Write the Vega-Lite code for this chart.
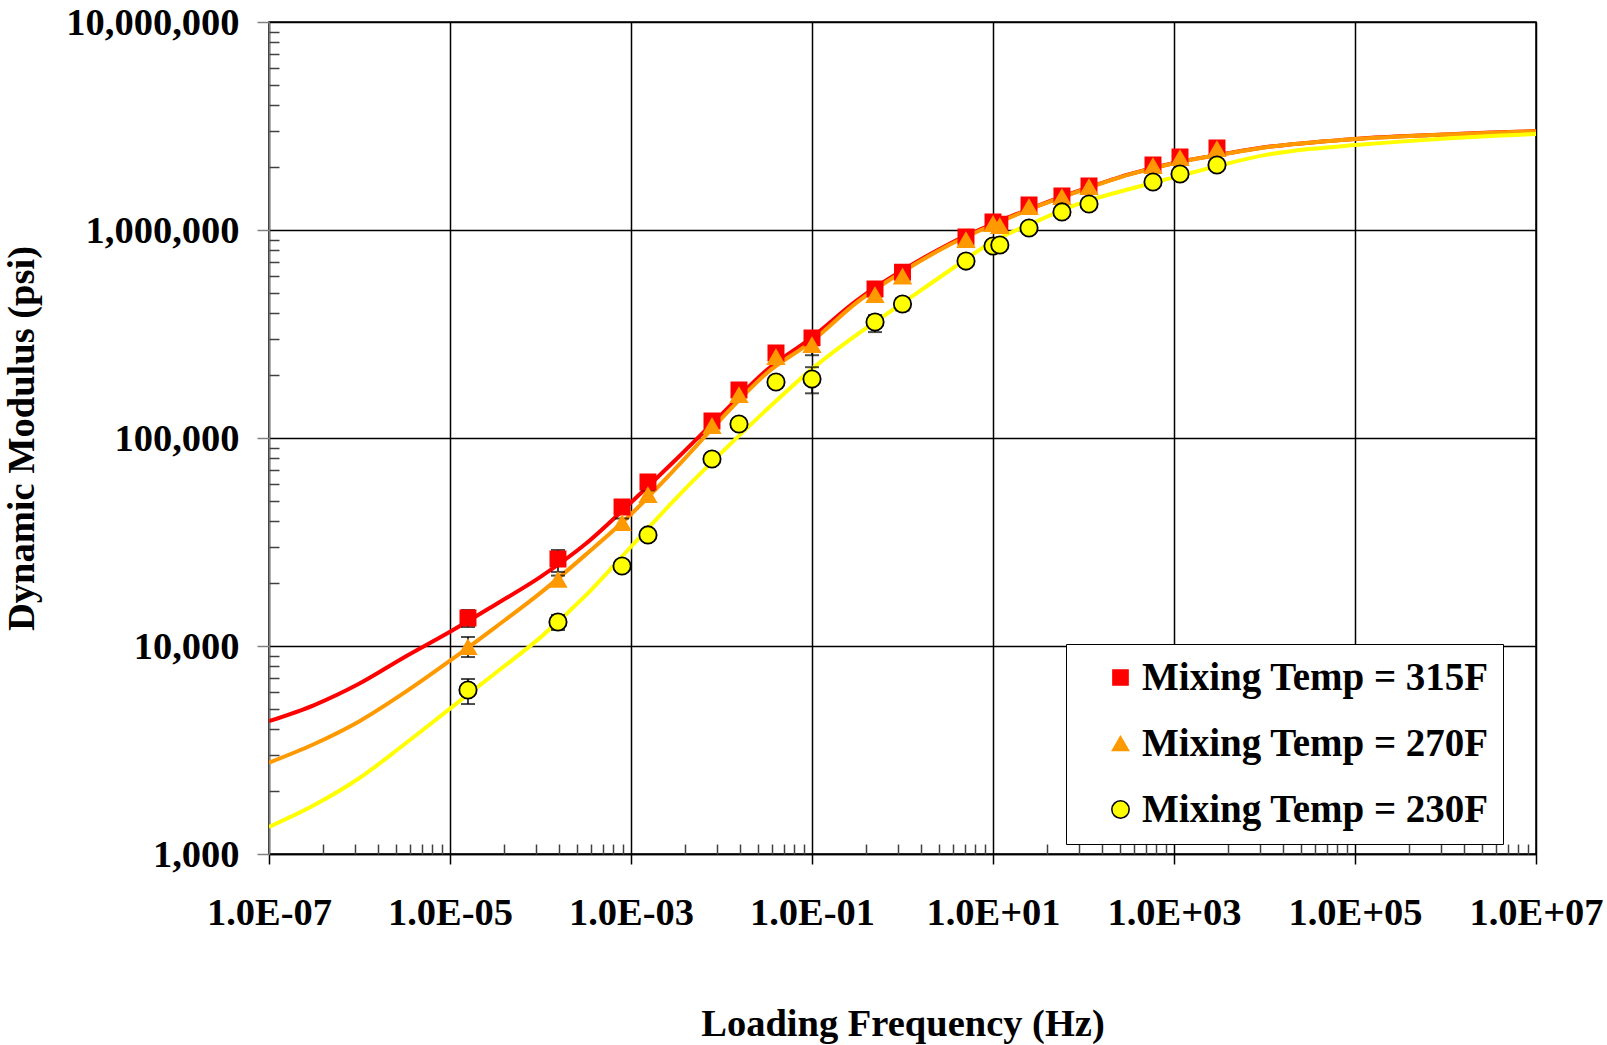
{
  "$schema": "https://vega.github.io/schema/vega-lite/v6.json",
  "autosize": {"type": "none"},
  "width": 1267,
  "height": 832,
  "padding": {"left": 269, "top": 22, "right": 71, "bottom": 191},
  "background": "white",
  "config": {
    "view": {"stroke": "black", "strokeWidth": 1.5},
    "axis": {
      "labelFont": "Liberation Serif",
      "labelFontWeight": "bold",
      "labelFontSize": 38.5,
      "labelColor": "black",
      "titleFont": "Liberation Serif",
      "titleFontWeight": "bold",
      "titleFontSize": 38.5,
      "titleColor": "black"
    },
    "legend": {
      "orient": "none", "legendX": 797, "legendY": 622,
      "labelFont": "Liberation Serif", "labelFontWeight": "bold", "labelFontSize": 39, "labelColor": "black",
      "labelLimit": 0,
      "symbolSize": 190, "symbolOffset": 21, "labelOffset": 2,
      "padding": 14, "rowPadding": 26,
      "strokeColor": "black", "fillColor": "white"
    }
  },
  "datasets": {
    "curves": [
      {"curve": "315F", "f": 1e-7, "E": 4350},
      {"curve": "315F", "f": 3.162e-7, "E": 5200},
      {"curve": "315F", "f": 1e-6, "E": 6600},
      {"curve": "315F", "f": 3.162e-6, "E": 8850},
      {"curve": "315F", "f": 1e-5, "E": 11700},
      {"curve": "315F", "f": 3.162e-5, "E": 15800},
      {"curve": "315F", "f": 1e-4, "E": 21500},
      {"curve": "315F", "f": 3.162e-4, "E": 31000},
      {"curve": "315F", "f": 1e-3, "E": 49000},
      {"curve": "315F", "f": 3.162e-3, "E": 79000},
      {"curve": "315F", "f": 1e-2, "E": 130000},
      {"curve": "315F", "f": 3.162e-2, "E": 212000},
      {"curve": "315F", "f": 0.1, "E": 305000},
      {"curve": "315F", "f": 0.3162, "E": 460000},
      {"curve": "315F", "f": 1, "E": 640000},
      {"curve": "315F", "f": 3.162, "E": 850000},
      {"curve": "315F", "f": 10, "E": 1070000},
      {"curve": "315F", "f": 31.62, "E": 1310000},
      {"curve": "315F", "f": 100, "E": 1570000},
      {"curve": "315F", "f": 316.2, "E": 1850000},
      {"curve": "315F", "f": 1000, "E": 2100000},
      {"curve": "315F", "f": 3162, "E": 2300000},
      {"curve": "315F", "f": 10000, "E": 2500000},
      {"curve": "315F", "f": 31620, "E": 2630000},
      {"curve": "315F", "f": 100000, "E": 2740000},
      {"curve": "315F", "f": 316200, "E": 2820000},
      {"curve": "315F", "f": 1000000, "E": 2880000},
      {"curve": "315F", "f": 3162000, "E": 2940000},
      {"curve": "315F", "f": 10000000, "E": 2990000},
      {"curve": "270F", "f": 1e-7, "E": 2750},
      {"curve": "270F", "f": 3.162e-7, "E": 3380},
      {"curve": "270F", "f": 1e-6, "E": 4350},
      {"curve": "270F", "f": 3.162e-6, "E": 5980},
      {"curve": "270F", "f": 1e-5, "E": 8500},
      {"curve": "270F", "f": 3.162e-5, "E": 12300},
      {"curve": "270F", "f": 1e-4, "E": 18000},
      {"curve": "270F", "f": 3.162e-4, "E": 27500},
      {"curve": "270F", "f": 1e-3, "E": 43000},
      {"curve": "270F", "f": 3.162e-3, "E": 72000},
      {"curve": "270F", "f": 1e-2, "E": 124000},
      {"curve": "270F", "f": 3.162e-2, "E": 205000},
      {"curve": "270F", "f": 0.1, "E": 292000},
      {"curve": "270F", "f": 0.3162, "E": 450000},
      {"curve": "270F", "f": 1, "E": 630000},
      {"curve": "270F", "f": 3.162, "E": 840000},
      {"curve": "270F", "f": 10, "E": 1060000},
      {"curve": "270F", "f": 31.62, "E": 1305000},
      {"curve": "270F", "f": 100, "E": 1565000},
      {"curve": "270F", "f": 316.2, "E": 1845000},
      {"curve": "270F", "f": 1000, "E": 2095000},
      {"curve": "270F", "f": 3162, "E": 2295000},
      {"curve": "270F", "f": 10000, "E": 2495000},
      {"curve": "270F", "f": 31620, "E": 2625000},
      {"curve": "270F", "f": 100000, "E": 2735000},
      {"curve": "270F", "f": 316200, "E": 2815000},
      {"curve": "270F", "f": 1000000, "E": 2875000},
      {"curve": "270F", "f": 3162000, "E": 2935000},
      {"curve": "270F", "f": 10000000, "E": 2985000},
      {"curve": "230F", "f": 1e-7, "E": 1350},
      {"curve": "230F", "f": 3.162e-7, "E": 1720},
      {"curve": "230F", "f": 1e-6, "E": 2320},
      {"curve": "230F", "f": 3.162e-6, "E": 3380},
      {"curve": "230F", "f": 1e-5, "E": 5000},
      {"curve": "230F", "f": 3.162e-5, "E": 7400},
      {"curve": "230F", "f": 1e-4, "E": 11000},
      {"curve": "230F", "f": 3.162e-4, "E": 17500},
      {"curve": "230F", "f": 1e-3, "E": 30000},
      {"curve": "230F", "f": 3.162e-3, "E": 51400},
      {"curve": "230F", "f": 1e-2, "E": 85000},
      {"curve": "230F", "f": 3.162e-2, "E": 137000},
      {"curve": "230F", "f": 0.1, "E": 215000},
      {"curve": "230F", "f": 0.3162, "E": 315000},
      {"curve": "230F", "f": 1, "E": 445000},
      {"curve": "230F", "f": 3.162, "E": 630000},
      {"curve": "230F", "f": 10, "E": 880000},
      {"curve": "230F", "f": 31.62, "E": 1110000},
      {"curve": "230F", "f": 100, "E": 1360000},
      {"curve": "230F", "f": 316.2, "E": 1570000},
      {"curve": "230F", "f": 1000, "E": 1790000},
      {"curve": "230F", "f": 3162, "E": 2040000},
      {"curve": "230F", "f": 10000, "E": 2290000},
      {"curve": "230F", "f": 31620, "E": 2450000},
      {"curve": "230F", "f": 100000, "E": 2560000},
      {"curve": "230F", "f": 316200, "E": 2660000},
      {"curve": "230F", "f": 1000000, "E": 2750000},
      {"curve": "230F", "f": 3162000, "E": 2830000},
      {"curve": "230F", "f": 10000000, "E": 2895000}
    ],
    "pts": [
      {"series": "Mixing Temp = 315F", "f": 1.58e-5, "E": 13640, "lo": 12340, "hi": 14900},
      {"series": "Mixing Temp = 315F", "f": 1.56e-4, "E": 26200, "lo": 22700, "hi": 28950},
      {"series": "Mixing Temp = 315F", "f": 7.96e-4, "E": 46600, "lo": 44000, "hi": 49000},
      {"series": "Mixing Temp = 315F", "f": 1.54e-3, "E": 61400, "lo": 58500, "hi": 64500},
      {"series": "Mixing Temp = 315F", "f": 7.85e-3, "E": 120700, "lo": 114000, "hi": 127000},
      {"series": "Mixing Temp = 315F", "f": 0.0156, "E": 170000, "lo": 160000, "hi": 178000},
      {"series": "Mixing Temp = 315F", "f": 0.04, "E": 256000, "lo": 238000, "hi": 272000},
      {"series": "Mixing Temp = 315F", "f": 0.1, "E": 303000, "lo": 280000, "hi": 327000},
      {"series": "Mixing Temp = 315F", "f": 0.497, "E": 520000, "lo": 485000, "hi": 550000},
      {"series": "Mixing Temp = 315F", "f": 1.0, "E": 626000, "lo": 585000, "hi": 655000},
      {"series": "Mixing Temp = 315F", "f": 5.03, "E": 925000, "lo": 880000, "hi": 965000},
      {"series": "Mixing Temp = 315F", "f": 10, "E": 1092000, "lo": 1040000, "hi": 1130000},
      {"series": "Mixing Temp = 315F", "f": 11.9, "E": 1065000, "lo": 1020000, "hi": 1110000},
      {"series": "Mixing Temp = 315F", "f": 25, "E": 1320000, "lo": 1260000, "hi": 1370000},
      {"series": "Mixing Temp = 315F", "f": 57.8, "E": 1457000, "lo": 1400000, "hi": 1510000},
      {"series": "Mixing Temp = 315F", "f": 115, "E": 1629000, "lo": 1570000, "hi": 1690000},
      {"series": "Mixing Temp = 315F", "f": 586, "E": 2055000, "lo": 1960000, "hi": 2150000},
      {"series": "Mixing Temp = 315F", "f": 1165, "E": 2245000, "lo": 2150000, "hi": 2340000},
      {"series": "Mixing Temp = 315F", "f": 2985, "E": 2480000, "lo": 2360000, "hi": 2600000},
      {"series": "Mixing Temp = 270F", "f": 1.58e-5, "E": 9890, "lo": 8850, "hi": 11050},
      {"series": "Mixing Temp = 270F", "f": 1.56e-4, "E": 20800, "lo": 19800, "hi": 21800},
      {"series": "Mixing Temp = 270F", "f": 7.96e-4, "E": 39000, "lo": 37000, "hi": 41000},
      {"series": "Mixing Temp = 270F", "f": 1.54e-3, "E": 53200, "lo": 50500, "hi": 56000},
      {"series": "Mixing Temp = 270F", "f": 7.85e-3, "E": 114300, "lo": 109000, "hi": 120000},
      {"series": "Mixing Temp = 270F", "f": 0.0156, "E": 161000, "lo": 153000, "hi": 169000},
      {"series": "Mixing Temp = 270F", "f": 0.04, "E": 245000, "lo": 233000, "hi": 257000},
      {"series": "Mixing Temp = 270F", "f": 0.1, "E": 280000, "lo": 250000, "hi": 305000},
      {"series": "Mixing Temp = 270F", "f": 0.497, "E": 487000, "lo": 455000, "hi": 515000},
      {"series": "Mixing Temp = 270F", "f": 1.0, "E": 598000, "lo": 565000, "hi": 630000},
      {"series": "Mixing Temp = 270F", "f": 5.03, "E": 895000, "lo": 850000, "hi": 940000},
      {"series": "Mixing Temp = 270F", "f": 10, "E": 1069000, "lo": 1020000, "hi": 1120000},
      {"series": "Mixing Temp = 270F", "f": 11.9, "E": 1045000, "lo": 995000, "hi": 1095000},
      {"series": "Mixing Temp = 270F", "f": 25, "E": 1290000, "lo": 1230000, "hi": 1350000},
      {"series": "Mixing Temp = 270F", "f": 57.8, "E": 1440000, "lo": 1370000, "hi": 1510000},
      {"series": "Mixing Temp = 270F", "f": 115, "E": 1610000, "lo": 1530000, "hi": 1690000},
      {"series": "Mixing Temp = 270F", "f": 586, "E": 2030000, "lo": 1930000, "hi": 2130000},
      {"series": "Mixing Temp = 270F", "f": 1165, "E": 2220000, "lo": 2110000, "hi": 2330000},
      {"series": "Mixing Temp = 270F", "f": 2985, "E": 2450000, "lo": 2330000, "hi": 2570000},
      {"series": "Mixing Temp = 230F", "f": 1.58e-5, "E": 6140, "lo": 5260, "hi": 6940},
      {"series": "Mixing Temp = 230F", "f": 1.56e-4, "E": 13050, "lo": 11940, "hi": 14100},
      {"series": "Mixing Temp = 230F", "f": 7.96e-4, "E": 24260, "lo": 23300, "hi": 25200},
      {"series": "Mixing Temp = 230F", "f": 1.54e-3, "E": 34200, "lo": 32800, "hi": 35600},
      {"series": "Mixing Temp = 230F", "f": 7.85e-3, "E": 79300, "lo": 76000, "hi": 82500},
      {"series": "Mixing Temp = 230F", "f": 0.0156, "E": 116800, "lo": 112000, "hi": 121500},
      {"series": "Mixing Temp = 230F", "f": 0.04, "E": 186000, "lo": 178000, "hi": 194000},
      {"series": "Mixing Temp = 230F", "f": 0.1, "E": 192000, "lo": 164000, "hi": 219000},
      {"series": "Mixing Temp = 230F", "f": 0.497, "E": 361000, "lo": 323000, "hi": 390000},
      {"series": "Mixing Temp = 230F", "f": 1.0, "E": 441000, "lo": 410000, "hi": 470000},
      {"series": "Mixing Temp = 230F", "f": 5.03, "E": 709000, "lo": 680000, "hi": 740000},
      {"series": "Mixing Temp = 230F", "f": 10, "E": 838000, "lo": 800000, "hi": 875000},
      {"series": "Mixing Temp = 230F", "f": 11.9, "E": 847000, "lo": 810000, "hi": 885000},
      {"series": "Mixing Temp = 230F", "f": 25, "E": 1023000, "lo": 980000, "hi": 1065000},
      {"series": "Mixing Temp = 230F", "f": 57.8, "E": 1222000, "lo": 1170000, "hi": 1275000},
      {"series": "Mixing Temp = 230F", "f": 115, "E": 1334000, "lo": 1280000, "hi": 1390000},
      {"series": "Mixing Temp = 230F", "f": 586, "E": 1702000, "lo": 1630000, "hi": 1775000},
      {"series": "Mixing Temp = 230F", "f": 1165, "E": 1858000, "lo": 1780000, "hi": 1935000},
      {"series": "Mixing Temp = 230F", "f": 2985, "E": 2055000, "lo": 1970000, "hi": 2140000}
    ]
  },
  "resolve": {
    "scale": {"color": "independent", "shape": "independent", "stroke": "independent", "size": "independent"},
    "axis": {"x": "independent", "y": "independent"}
  },
  "layer": [
    {
      "data": {"name": "curves"},
      "mark": {"type": "line", "strokeWidth": 4, "interpolate": "monotone", "clip": true},
      "encoding": {
        "x": {
          "field": "f", "type": "quantitative",
          "scale": {"type": "log", "domain": [1e-7, 1e7], "nice": false},
          "axis": {
            "orient": "bottom",
            "values": [1e-7, 1e-5, 1e-3, 1e-1, 10, 1000, 100000, 10000000],
            "labelExpr": "'1.0E' + (datum.value < 1 ? '-' : '+') + (abs(round(log(datum.value)/LN10)) < 10 ? '0' : '') + abs(round(log(datum.value)/LN10))",
            "grid": true, "gridColor": "black", "gridWidth": 1.5,
            "domainColor": "black", "domainWidth": 1.5,
            "tickColor": "black", "tickWidth": 1.5, "tickSize": 10,
            "labelPadding": 30, "labelFlush": false, "labelOverlap": false,
            "title": "Loading Frequency (Hz)", "titlePadding": 74
          }
        },
        "y": {
          "field": "E", "type": "quantitative",
          "scale": {"type": "log", "domain": [1000, 10000000], "nice": false},
          "axis": {
            "orient": "left",
            "values": [1000, 10000, 100000, 1000000, 10000000],
            "format": ",",
            "grid": true, "gridColor": "black", "gridWidth": 1.5,
            "domainColor": "#808080", "domainWidth": 1.5,
            "tickColor": "#808080", "tickWidth": 1.5, "tickSize": 12,
            "labelPadding": 18, "labelFlush": false, "labelOverlap": false,
            "title": "Dynamic Modulus (psi)", "titlePadding": 28
          }
        },
        "color": {
          "field": "curve", "type": "nominal",
          "scale": {"domain": ["315F", "270F", "230F"], "range": ["#FF0000", "#FF9900", "#FFFF00"]},
          "legend": null
        }
      }
    },
    {
      "data": {"name": "pts"},
      "mark": {"type": "rule", "color": "black", "strokeWidth": 1.5},
      "encoding": {
        "x": {
          "field": "f", "type": "quantitative",
          "scale": {"type": "log", "domain": [1e-7, 1e7], "nice": false},
          "axis": {
            "orient": "bottom",
            "values": [4e-7, 9e-7, 1.6e-6, 2.5e-6, 3.6e-6, 4.9e-6, 6.4e-6, 8.1e-6, 4e-5, 9e-5, 1.6e-4, 2.5e-4, 3.6e-4, 4.9e-4, 6.4e-4, 8.1e-4, 4e-3, 9e-3, 1.6e-2, 2.5e-2, 3.6e-2, 4.9e-2, 6.4e-2, 8.1e-2, 0.4, 0.9, 1.6, 2.5, 3.6, 4.9, 6.4, 8.1, 40, 90, 160, 250, 360, 490, 640, 810, 4000, 9000, 16000, 25000, 36000, 49000, 64000, 81000, 400000, 900000, 1600000, 2500000, 3600000, 4900000, 6400000, 8100000],
            "labels": false, "grid": false, "domain": false,
            "tickColor": "#404040", "tickWidth": 1.5, "tickSize": -10, "title": null
          }
        },
        "y": {
          "field": "lo", "type": "quantitative",
          "scale": {"type": "log", "domain": [1000, 10000000], "nice": false},
          "axis": {
            "orient": "left",
            "values": [2000, 3000, 4000, 5000, 6000, 7000, 8000, 9000, 20000, 30000, 40000, 50000, 60000, 70000, 80000, 90000, 200000, 300000, 400000, 500000, 600000, 700000, 800000, 900000, 2000000, 3000000, 4000000, 5000000, 6000000, 7000000, 8000000, 9000000],
            "labels": false, "grid": false, "domain": false,
            "tickColor": "#404040", "tickWidth": 1.5, "tickSize": -10, "title": null
          }
        },
        "y2": {"field": "hi"}
      }
    },
    {
      "data": {"name": "pts"},
      "transform": [{"fold": ["lo", "hi"], "as": ["end", "val"]}],
      "mark": {"type": "tick", "orient": "horizontal", "color": "black", "size": 14, "thickness": 2},
      "encoding": {
        "x": {"field": "f", "type": "quantitative", "scale": {"type": "log", "domain": [1e-7, 1e7], "nice": false}, "axis": null},
        "y": {"field": "val", "type": "quantitative", "scale": {"type": "log", "domain": [1000, 10000000], "nice": false}, "axis": null}
      }
    },
    {
      "data": {"name": "pts"},
      "mark": {"type": "point", "filled": true, "opacity": 1, "strokeWidth": 1.8},
      "encoding": {
        "x": {"field": "f", "type": "quantitative", "scale": {"type": "log", "domain": [1e-7, 1e7], "nice": false}, "axis": null},
        "y": {"field": "E", "type": "quantitative", "scale": {"type": "log", "domain": [1000, 10000000], "nice": false}, "axis": null},
        "color": {
          "field": "series", "type": "nominal",
          "scale": {"domain": ["Mixing Temp = 315F", "Mixing Temp = 270F", "Mixing Temp = 230F"], "range": ["#FF0000", "#FF9900", "#FFFF00"]},
          "legend": {"title": null, "labelExpr": "datum.label + '\u00a0\u00a0\u00a0\u00a0'"}
        },
        "shape": {
          "field": "series", "type": "nominal",
          "scale": {"domain": ["Mixing Temp = 315F", "Mixing Temp = 270F", "Mixing Temp = 230F"], "range": ["square", "triangle-up", "circle"]},
          "legend": {"title": null, "labelExpr": "datum.label + '\u00a0\u00a0\u00a0\u00a0'"}
        },
        "stroke": {
          "field": "series", "type": "nominal",
          "scale": {"domain": ["Mixing Temp = 315F", "Mixing Temp = 270F", "Mixing Temp = 230F"], "range": ["#FF0000", "#FF9900", "#000000"]},
          "legend": {"title": null, "labelExpr": "datum.label + '\u00a0\u00a0\u00a0\u00a0'"}
        },
        "size": {
          "field": "series", "type": "nominal",
          "scale": {"domain": ["Mixing Temp = 315F", "Mixing Temp = 270F", "Mixing Temp = 230F"], "range": [230, 300, 260]},
          "legend": null
        }
      }
    }
  ]
}
